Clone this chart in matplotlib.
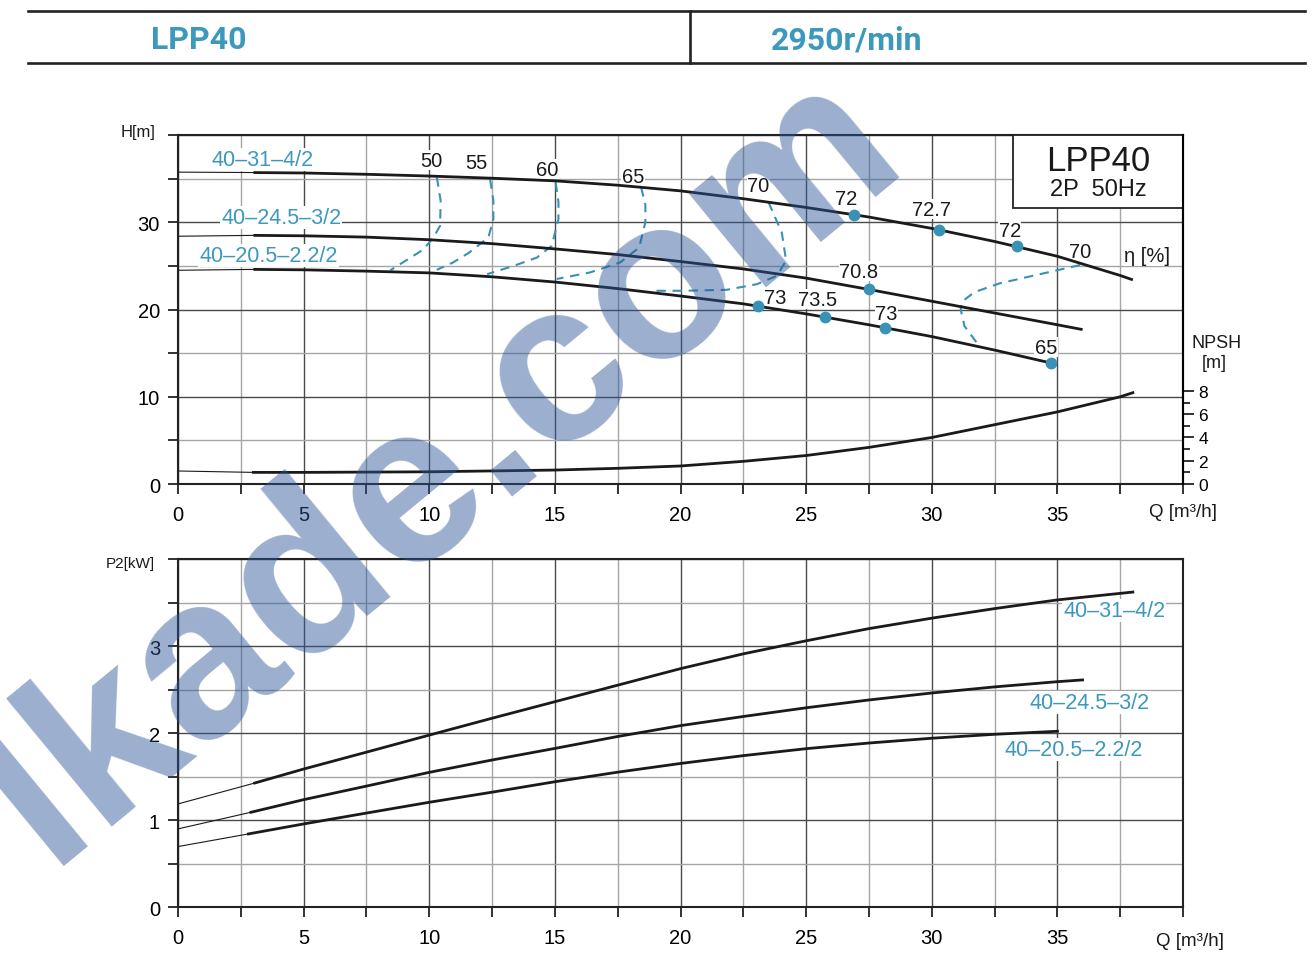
import matplotlib.pyplot as plt
from matplotlib.lines import Line2D
from matplotlib.patches import Rectangle

plt.rcParams['font.family'] = ['Liberation Sans', 'DejaVu Sans']

TEAL = "#3892b6"
TEAL_TXT = "#3d98be"

# ------------------------------
# Data
# ------------------------------
# Q-H curves (thin lead-in from Q=0, thick from ~3)
q_31 = [3, 5, 7.5, 10, 12.5, 15, 17.5, 20, 22.5, 25, 27.5, 30, 32.5, 35, 37.5, 38]
h_31 = [35.7, 35.65, 35.5, 35.3, 35.05, 34.75, 34.25, 33.6, 32.7, 31.7, 30.6, 29.3, 27.8, 26.1, 23.9, 23.4]
q_24 = [3, 5, 7.5, 10, 12.5, 15, 17.5, 20, 22.5, 25, 27.5, 30, 32.5, 35, 36]
h_24 = [28.5, 28.45, 28.3, 28.0, 27.55, 26.95, 26.3, 25.5, 24.65, 23.6, 22.3, 20.95, 19.6, 18.25, 17.7]
q_20 = [3, 5, 7.5, 10, 12.5, 15, 17.5, 20, 22.5, 25, 27.5, 30, 32.5, 35]
h_20 = [24.6, 24.55, 24.4, 24.2, 23.75, 23.15, 22.4, 21.55, 20.65, 19.5, 18.25, 16.9, 15.35, 13.7]
h_start = [35.75, 28.4, 24.5]   # head at Q=0

# NPSH curve [m]
q_npsh = [3, 5, 10, 15, 17.5, 20, 22.5, 25, 27.5, 30, 32.5, 35, 37.5, 38]
npsh = [1.0, 1.0, 1.05, 1.2, 1.35, 1.55, 1.95, 2.45, 3.15, 4.0, 5.1, 6.2, 7.5, 7.85]
npsh_start = 1.12

# efficiency points on the curves
eta_q = [26.9, 30.3, 33.4, 27.5, 23.1, 25.75, 28.15, 34.75]
eta_h = [30.85, 29.1, 27.25, 22.3, 20.4, 19.15, 17.9, 13.85]
eta_txt = ["72", "72.7", "72", "70.8", "73", "73.5", "73", "65"]
eta_lbl_q = [26.6, 30.0, 33.1, 27.1, 23.75, 25.45, 28.2, 34.55]
eta_lbl_h = [32.75, 31.5, 29.1, 24.4, 21.4, 21.2, 19.5, 15.7]

# iso-efficiency dashed lines
iso = {
    "50": ([10.3, 10.45, 10.43, 10.15, 9.75, 8.95, 8.45],
           [35.15, 32.5, 29.6, 28.2, 26.85, 25.4, 24.5]),
    "55": ([12.42, 12.55, 12.55, 12.35, 11.6, 10.95, 10.3],
           [34.9, 32.5, 30.35, 28.25, 26.55, 25.4, 24.55]),
    "60": ([15.03, 15.14, 15.14, 14.87, 14.28, 13.35, 12.3],
           [34.55, 32.3, 30.35, 27.3, 25.95, 25.0, 24.05]),
    "65": ([18.43, 18.6, 18.6, 18.35, 17.6, 16.4, 15.07],
           [34.0, 32.0, 30.0, 27.1, 25.4, 24.25, 23.5]),
    "70L": ([23.5, 24.03, 24.2, 23.83, 23.03, 21.84, 20.1, 18.8],
            [32.3, 28.8, 25.6, 23.86, 22.9, 22.26, 22.15, 22.15]),
    "70R": ([35.9, 34.3, 32.7, 31.7, 31.2, 31.15, 31.3, 31.8],
            [25.1, 24.05, 23.0, 22.0, 20.9, 20.0, 18.1, 16.15]),
}
iso_lbl = [("50", 10.1, 37.1), ("55", 11.86, 36.9), ("60", 14.7, 36.1),
           ("65", 18.1, 35.3), ("70", 23.1, 34.25), ("70", 35.9, 26.7)]

# P2 curves
q_p31 = [3.05, 5, 7.5, 10, 12.5, 15, 17.5, 20, 22.5, 25, 27.5, 30, 32.5, 35, 38]
p_31 = [1.425, 1.586, 1.78, 1.976, 2.17, 2.36, 2.55, 2.74, 2.91, 3.06, 3.2, 3.32, 3.43, 3.53, 3.62]
q_p24 = [2.9, 5, 7.5, 10, 12.5, 15, 17.5, 20, 22.5, 25, 27.5, 30, 32.5, 35, 36]
p_24 = [1.089, 1.234, 1.39, 1.548, 1.69, 1.823, 1.96, 2.085, 2.19, 2.29, 2.38, 2.46, 2.53, 2.59, 2.61]
q_p20 = [2.8, 5, 7.5, 10, 12.5, 15, 17.5, 20, 22.5, 25, 27.5, 30, 32.5, 35]
p_20 = [0.84, 0.955, 1.08, 1.204, 1.32, 1.44, 1.55, 1.65, 1.74, 1.82, 1.885, 1.94, 1.985, 2.02]
p_start = [1.185, 0.898, 0.695]

models = ["40–31–4/2", "40–24.5–3/2", "40–20.5–2.2/2"]
h_lbl_pos = [(3.35, 37.2), (4.1, 30.5), (3.6, 26.2)]
p_lbl_pos = [(37.26, 3.41), (36.27, 2.35), (35.63, 1.81)]

q_ticks = list(range(0, 41, 5))
q_minor = [2.5 + 5 * i for i in range(8)]
h_ticks = [0, 10, 20, 30, 40]
h_minor = [5, 15, 25, 35]
p_ticks = [0, 1, 2, 3, 4]
p_minor = [0.5, 1.5, 2.5, 3.5]

# ------------------------------
# Figure
# ------------------------------
fig = plt.figure(figsize=(13.16, 9.54), dpi=100)
ax = fig.add_axes([0.1353, 0.4916, 0.7637, 0.3658])
axp = fig.add_axes([0.1353, 0.0482, 0.7637, 0.3648])

# header
for y in (0.9874, 0.9329):
    fig.add_artist(Line2D([0.0213, 0.9916], [y, y], transform=fig.transFigure,
                          color="#222222", lw=1.9))
fig.add_artist(Line2D([0.5243, 0.5243], [0.9329, 0.9874], transform=fig.transFigure,
                      color="#222222", lw=1.9))
hdr_font = ['Roboto', 'DejaVu Sans']
fig.text(0.1512, 0.958, "LPP40", ha="center", va="center", fontsize=23,
         fontweight="bold", color=TEAL_TXT, family=hdr_font)
fig.text(0.643, 0.958, "2950r/min", ha="center", va="center", fontsize=23,
         fontweight="bold", color=TEAL_TXT, family=hdr_font)


def style(a, ymax, yt, ym):
    a.set_xlim(0, 40)
    a.set_ylim(0, ymax)
    a.set_xticks(q_ticks)
    a.set_xticks(q_minor, minor=True)
    a.set_xticklabels([str(v) for v in q_ticks[:-1]] + [""])
    a.set_yticks(yt)
    a.set_yticks(ym, minor=True)
    a.set_yticklabels([str(v) for v in yt[:-1]] + [""])
    a.grid(which="major", color="#4a4a4a", lw=1.0)
    a.grid(which="minor", color="#a5a5a5", lw=1.0)
    a.set_axisbelow(True)
    a.tick_params(which="both", direction="out", length=7, width=1.3,
                  color="#222222", labelsize=14.5, top=False, right=False)
    a.tick_params(axis="x", pad=8)
    a.tick_params(axis="y", pad=6)
    for s in a.spines.values():
        s.set_linewidth(1.5)
        s.set_color("#222222")


style(ax, 40, h_ticks, h_minor)
style(axp, 4, p_ticks, p_minor)

# Q-H curves
curves_h = [(q_31, h_31), (q_24, h_24), (q_20, h_20)]
for (qq, hh), h0 in zip(curves_h, h_start):
    ax.plot([0, qq[0]], [h0, hh[0]], color="#1a1a1a", lw=0.8, zorder=3)
    ax.plot(qq, hh, color="#1a1a1a", lw=2.0, zorder=3, solid_capstyle="butt")

for key, (qq, hh) in iso.items():
    ax.plot(qq, hh, color=TEAL, lw=1.5, ls=(0, (4.5, 3.2)), zorder=2.8)
for t, x, y in iso_lbl:
    ax.text(x, y, t, ha="center", va="center", fontsize=14.5, color="#1a1a1a", zorder=2.5,
            bbox=dict(facecolor="white", edgecolor="none", pad=0.5))
ax.text(38.55, 26.2, "η [%]", ha="center", va="center", fontsize=14.5, color="#1a1a1a",
        zorder=2.5, bbox=dict(facecolor="white", edgecolor="none", pad=0.5))

ax.plot(eta_q, eta_h, "o", color=TEAL, ms=7.5, zorder=4)
for t, x, y in zip(eta_txt, eta_lbl_q, eta_lbl_h):
    ax.text(x, y, t, ha="center", va="center", fontsize=14.5, color="#1a1a1a", zorder=2.5,
            bbox=dict(facecolor="white", edgecolor="none", pad=0.5))

for m, (x, y) in zip(models, h_lbl_pos):
    ax.text(x, y, m, ha="center", va="center", fontsize=15.5, color=TEAL_TXT, zorder=2.5,
            bbox=dict(facecolor="white", edgecolor="none", pad=0.8))

# legend box
ax.add_patch(Rectangle((0.8308, 0.7908), 0.1692, 0.2092, transform=ax.transAxes,
                       facecolor="white", edgecolor="#222222", lw=1.3, zorder=5))
ax.text(0.9154, 0.9284, "LPP40", transform=ax.transAxes, ha="center", va="center",
        fontsize=25, color="#1a1a1a", zorder=6)
ax.text(0.9154, 0.8453, "2P  50Hz", transform=ax.transAxes, ha="center", va="center",
        fontsize=17, color="#1a1a1a", zorder=6)

ax.text(-0.0398, 1.0115, "H[m]", transform=ax.transAxes, ha="center", va="center",
        fontsize=12, color="#1a1a1a")
ax.text(1.0, -0.080, "Q [m³/h]", transform=ax.transAxes, ha="center", va="center",
        fontsize=13.5, color="#1a1a1a")
ax.text(1.0338, 0.4069, "NPSH", transform=ax.transAxes, ha="center", va="center",
        fontsize=13, color="#1a1a1a")
ax.text(1.031, 0.3496, "[m]", transform=ax.transAxes, ha="center", va="center",
        fontsize=13, color="#1a1a1a")

# NPSH axis
ax2 = ax.twinx()
ax2.set_ylim(0, 30)
ax2.set_yticks([0, 2, 4, 6, 8])
ax2.set_yticks([1, 3, 5, 7], minor=True)
ax2.tick_params(which="major", direction="out", length=8, width=1.3, color="#222222",
                labelsize=12.5, pad=3)
ax2.tick_params(which="minor", direction="out", length=5, width=1.3, color="#222222")
for k in ("left", "top", "bottom"):
    ax2.spines[k].set_visible(False)
ax2.spines["right"].set_linewidth(1.5)
ax2.plot([0, q_npsh[0]], [npsh_start, npsh[0]], color="#1a1a1a", lw=0.8)
ax2.plot(q_npsh, npsh, color="#1a1a1a", lw=2.0)

# P2 curves
curves_p = [(q_p31, p_31), (q_p24, p_24), (q_p20, p_20)]
for (qq, pp), p0 in zip(curves_p, p_start):
    axp.plot([0, qq[0]], [p0, pp[0]], color="#1a1a1a", lw=0.8, zorder=3)
    axp.plot(qq, pp, color="#1a1a1a", lw=2.0, zorder=3)
for m, (x, y) in zip(models, p_lbl_pos):
    axp.text(x, y, m, ha="center", va="center", fontsize=15.5, color=TEAL_TXT, zorder=2.5,
             bbox=dict(facecolor="white", edgecolor="none", pad=0.8))
axp.text(-0.0478, 0.9885, "P2[kW]", transform=axp.transAxes, ha="center", va="center",
         fontsize=11, color="#1a1a1a")
axp.text(1.007, -0.095, "Q [m³/h]", transform=axp.transAxes, ha="center", va="center",
         fontsize=13.5, color="#1a1a1a")

# watermark
fig.text(0.334, 0.512, "lkade.com", rotation=39.5, ha="center", va="center",
         fontsize=164, fontweight="bold", color="#2b5597", alpha=0.47, zorder=20)

fig.savefig("out.png", dpi=100)
